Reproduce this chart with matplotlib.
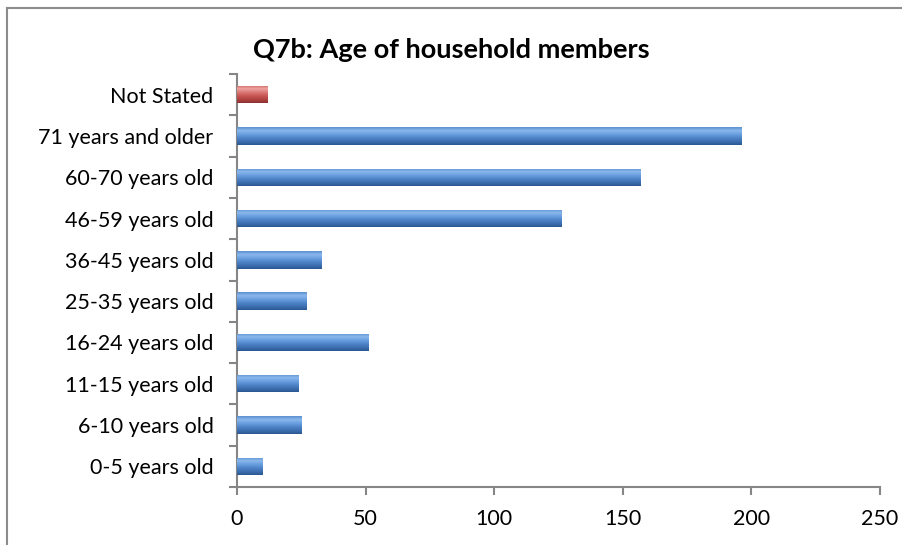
import matplotlib
matplotlib.use("Agg")
import matplotlib.pyplot as plt
from matplotlib.lines import Line2D
from matplotlib.colors import LinearSegmentedColormap
import numpy as np

plt.rcParams['font.family'] = ['Lato', 'DejaVu Sans']

categories = ["0-5 years old", "6-10 years old", "11-15 years old", "16-24 years old",
              "25-35 years old", "36-45 years old", "46-59 years old", "60-70 years old",
              "71 years and older", "Not Stated"]
values = [10, 25, 24, 51, 27, 33, 126, 157, 196, 12]
bar_colors = ["blue"] * 9 + ["red"]
title = "Q7b: Age of household members"
xticks = [0, 50, 100, 150, 200, 250]

# gradient stops from top to bottom of a bar
palette = {
    "blue": ["#5b8fd0", "#8ab8ec", "#6a9fe0", "#4f84c8", "#3d6fb0", "#2a5791"],
    "red": ["#cc6461", "#eea3a0", "#dc7a77", "#c75653", "#b04340", "#8c2f2d"],
}
cmaps = {k: LinearSegmentedColormap.from_list(k, v[::-1]) for k, v in palette.items()}

fig = plt.figure(figsize=(9.03, 5.45), dpi=100)
ax = fig.add_axes([237/903, 1-487/545, (880-237)/903, (487-74)/545])

y = np.arange(len(categories))
h = 0.42
bars = ax.barh(y, values, height=h, color=[palette[c][3] for c in bar_colors],
               edgecolor="none", zorder=2)
grad = np.linspace(0, 1, 256).reshape(-1, 1)
for b, c, v in zip(bars, bar_colors, values):
    x0, y0 = b.get_x(), b.get_y()
    im = ax.imshow(grad, cmap=cmaps[c], aspect="auto", origin="lower",
                   extent=(x0, x0 + b.get_width(), y0, y0 + b.get_height()), zorder=3)
    im.set_clip_path(b)

ax.set_xlim(0, 250)
ax.set_ylim(-0.5, len(categories) - 0.5)
ax.set_xticks(xticks)
ax.set_xticklabels([str(t) for t in xticks], fontsize=15.5)
ax.set_yticks(y)
ax.set_yticklabels(categories, fontsize=15.5)
ax.set_yticks(np.arange(-0.5, len(categories), 1), minor=True)
ax.tick_params(axis='y', which='major', length=0, pad=17)
ax.tick_params(axis='y', which='minor', length=6, color="#868686", width=1.5, direction='out')
ax.tick_params(axis='x', which='major', length=6, color="#868686", width=1.5, direction='out', pad=10)
for s in ["top", "right"]:
    ax.spines[s].set_visible(False)
for s in ["left", "bottom"]:
    ax.spines[s].set_color("#868686")
    ax.spines[s].set_linewidth(1.5)

fig.text(0.5, 1-50/545, title, ha="center", va="center", fontsize=19.5, fontweight="bold")

# chart border (top and left only visible)
fig.add_artist(Line2D([7/903, 7/903], [0, 1-8/545], transform=fig.transFigure,
                      color="#8c8c8c", linewidth=1.5))
fig.add_artist(Line2D([7/903, 1], [1-8/545, 1-8/545], transform=fig.transFigure,
                      color="#8c8c8c", linewidth=1.5))

fig.savefig("out.png", dpi=100)
